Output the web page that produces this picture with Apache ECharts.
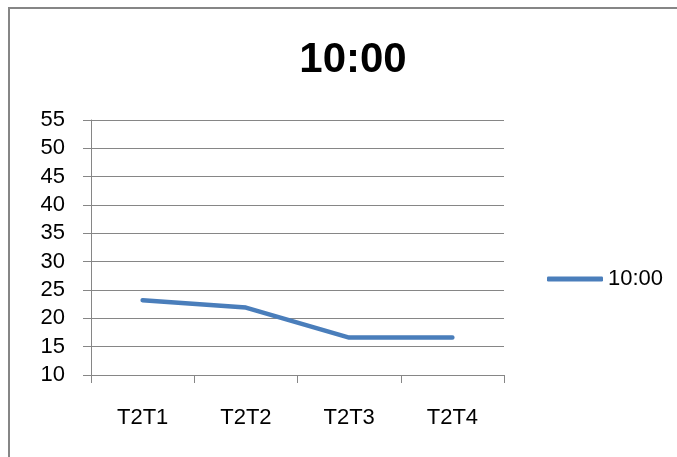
<!DOCTYPE html>
<html>
<head>
<meta charset="utf-8">
<script src="https://cdn.jsdelivr.net/npm/echarts@6/dist/echarts.min.js"></script>
<style>
  html, body { margin: 0; padding: 0; background: #fff; }
  #chart { width: 677px; height: 457px; }
</style>
</head>
<body>
<div id="chart"></div>
<script>
// Readings per sensor pair at 10:00
const categories = ['T2T1', 'T2T2', 'T2T3', 'T2T4'];
const seriesName = '10:00';
const values = [23.2, 21.9, 16.6, 16.6];
const yTicks = { min: 10, max: 55, interval: 5 };

const FONT = '"Liberation Sans", Arial, sans-serif';
const GRAY = '#868686';
const BLUE = '#4A7EBB';

const chart = echarts.init(document.getElementById('chart'), null, { renderer: 'canvas' });

chart.setOption({
  animation: false,
  backgroundColor: '#ffffff',
  graphic: [{
    type: 'rect',
    shape: { x: 9, y: 8, width: 720, height: 500 },
    style: { fill: 'none', stroke: GRAY, lineWidth: 2 },
    silent: true
  }],
  title: {
    text: seriesName,
    left: 348,
    top: 34,
    textAlign: 'center',
    textStyle: { fontFamily: FONT, fontSize: 42, fontWeight: 'bold', color: '#000' }
  },
  legend: {
    data: [seriesName],
    left: 542,
    top: 263,
    itemWidth: 56,
    itemHeight: 5,
    icon: 'roundRect',
    textStyle: { fontFamily: FONT, fontSize: 22, color: '#000' }
  },
  grid: { left: 91, right: 173, top: 120, bottom: 82, containLabel: false },
  xAxis: {
    type: 'category',
    data: categories,
    boundaryGap: true,
    axisLine: { lineStyle: { color: GRAY, width: 1 } },
    axisTick: { show: true, length: 8, alignWithLabel: false, lineStyle: { color: GRAY } },
    axisLabel: { margin: 32, fontFamily: FONT, fontSize: 22, color: '#000' },
    splitLine: { show: false }
  },
  yAxis: {
    type: 'value',
    min: yTicks.min,
    max: yTicks.max,
    interval: yTicks.interval,
    axisLine: { show: true, lineStyle: { color: GRAY, width: 1 } },
    axisTick: { show: true, length: 8, lineStyle: { color: GRAY } },
    axisLabel: { margin: 26, fontFamily: FONT, fontSize: 22, color: '#000' },
    splitLine: { show: true, lineStyle: { color: GRAY, width: 1 } }
  },
  series: [{
    name: seriesName,
    type: 'line',
    data: values,
    symbol: 'none',
    smooth: false,
    color: BLUE,
    lineStyle: { color: BLUE, width: 4.5, cap: 'round', join: 'round' }
  }]
});
</script>
</body>
</html>
